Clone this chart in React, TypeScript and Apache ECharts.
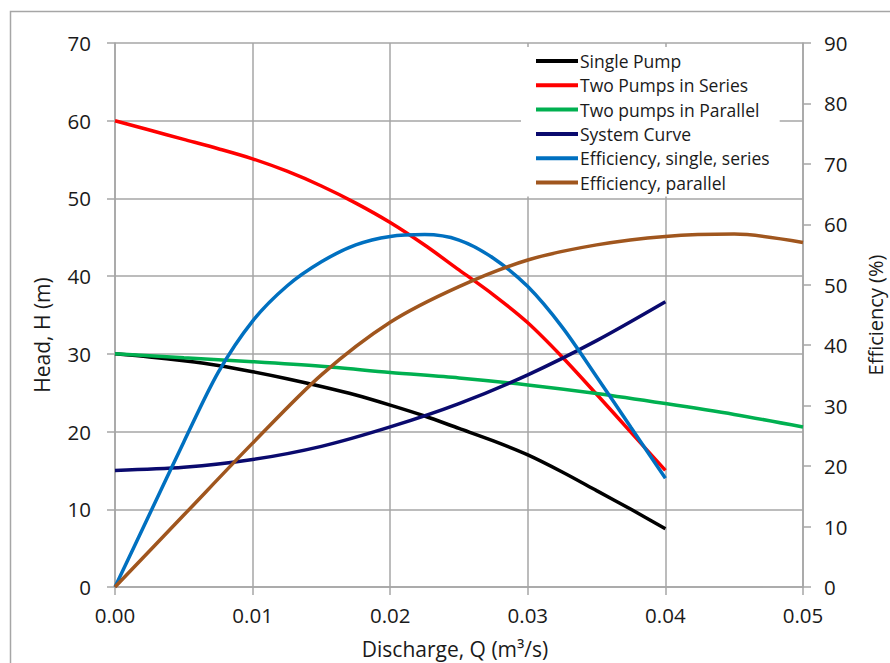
import React, { useEffect, useRef } from "react";
import * as echarts from "echarts";

// Discharge Q (m3/s)
const qFine = [0, 0.0025, 0.005, 0.0075, 0.01, 0.0125, 0.015, 0.0175, 0.02, 0.0225, 0.025, 0.0275, 0.03, 0.0325, 0.035, 0.0375, 0.04];
const qShort = [0, 0.005, 0.01, 0.015, 0.02, 0.025, 0.03, 0.035, 0.04];
const qLong = [0, 0.005, 0.01, 0.015, 0.02, 0.025, 0.03, 0.035, 0.04, 0.045, 0.05];

// Head H (m)
const singlePump = [30, 29.6, 29.1, 28.5, 27.7, 26.8, 25.8, 24.7, 23.4, 22.0, 20.4, 18.8, 17.0, 14.8, 12.4, 10.0, 7.5];
const pumpsSeries = [60, 58.8, 57.6, 56.4, 55.1, 53.5, 51.6, 49.4, 46.9, 44.0, 40.8, 37.6, 34.0, 29.6, 24.8, 19.9, 15.0];
const pumpsParallel = [30, 29.5, 29.0, 28.4, 27.6, 26.9, 26.0, 24.9, 23.6, 22.2, 20.6];
const systemCurve = [15, 15.4, 16.4, 18.1, 20.6, 23.6, 27.3, 31.7, 36.7];

// Efficiency (%)
const effSingle = [0, 12.0, 24.0, 35.5, 44.0, 49.8, 53.8, 56.6, 58.0, 58.3, 57.4, 54.4, 49.7, 43.0, 34.8, 26.4, 18.0];
const effParallel = [0, 11.9, 23.8, 35.1, 43.8, 49.7, 54.1, 56.6, 58.0, 58.4, 57.0];

const xTicks = [0, 0.01, 0.02, 0.03, 0.04, 0.05];
const headTicks = [0, 10, 20, 30, 40, 50, 60, 70];
const effTicks = [0, 10, 20, 30, 40, 50, 60, 70, 80, 90];

const FONT = "'Open Sans', 'Noto Sans', sans-serif";
const GRID = "#a6a6a6";
const TXT = "#1a1a1a";

const pairs = (xs: number[], ys: number[]) => ys.map((y, i) => [xs[i], y]);

export default function App() {
  const ref = useRef<HTMLDivElement>(null);
  useEffect(() => {
    if (!ref.current) return;
    const chart = echarts.init(ref.current, null, { renderer: "svg" });
    const mk = (name: string, xs: number[], ys: number[], color: string, axis: number) => ({
      name,
      type: "line",
      yAxisIndex: axis,
      data: pairs(xs, ys),
      smooth: 0.3,
      showSymbol: false,
      symbol: "none",
      lineStyle: { color, width: 3.5 },
      itemStyle: { color },
    });
    chart.setOption({
      animation: false,
      backgroundColor: "#ffffff",
      textStyle: { fontFamily: FONT },
      grid: { left: 115, right: 87, top: 43, bottom: 76, containLabel: false },
      legend: {
        orient: "vertical",
        left: 521,
        top: 47,
        padding: [5, 10, 5, 15],
        backgroundColor: "#ffffff",
        itemWidth: 42,
        itemHeight: 4,
        itemGap: 6.3,
        icon: "rect",
        textStyle: { fontFamily: FONT, fontSize: 17.5, color: TXT, lineHeight: 18, padding: [0, 0, 0, -3] },
        data: [
          "Single Pump",
          "Two Pumps in Series",
          "Two pumps in Parallel",
          "System Curve",
          "Efficiency, single, series",
          "Efficiency, parallel",
        ],
      },
      xAxis: {
        type: "value",
        min: xTicks[0],
        max: xTicks[xTicks.length - 1],
        interval: 0.01,
        axisLine: { show: true, lineStyle: { color: GRID, width: 1.5 } },
        axisTick: { show: true, length: 8, lineStyle: { color: GRID, width: 1.5 } },
        axisLabel: { margin: 17, fontSize: 20.5, color: TXT, fontFamily: FONT, formatter: (v: number) => v.toFixed(2) },
        splitLine: { show: true, lineStyle: { color: GRID, width: 1.5 } },
      },
      yAxis: [
        {
          type: "value",
          min: headTicks[0],
          max: headTicks[headTicks.length - 1],
          interval: 10,
          position: "left",
          axisLine: { show: true, lineStyle: { color: GRID, width: 1.5 } },
          axisTick: { show: true, length: 8, lineStyle: { color: GRID, width: 1.5 } },
          axisLabel: { margin: 24, fontSize: 20.5, color: TXT, fontFamily: FONT },
          splitLine: { show: true, lineStyle: { color: GRID, width: 1.5 } },
        },
        {
          type: "value",
          min: effTicks[0],
          max: effTicks[effTicks.length - 1],
          interval: 10,
          position: "right",
          axisLine: { show: true, lineStyle: { color: GRID, width: 1.5 } },
          axisTick: { show: true, length: 8, lineStyle: { color: GRID, width: 1.5 } },
          axisLabel: { margin: 21, fontSize: 20.5, color: TXT, fontFamily: FONT },
          splitLine: { show: false },
        },
      ],
      graphic: [
        {
          type: "rect",
          left: 8,
          top: 9,
          shape: { width: 1000, height: 1000 },
          style: { fill: "none", stroke: "#a6a6a6", lineWidth: 1.5 },
          silent: true,
          z: -10,
        },
        {
          type: "text",
          x: 455,
          y: 649,
          style: { text: "Discharge, Q (m³/s)", fontFamily: FONT, fontSize: 21, fill: TXT, align: "center", verticalAlign: "middle" },
        },
        {
          type: "text",
          x: 42,
          y: 335,
          rotation: Math.PI / 2,
          style: { text: "Head, H (m)", fontFamily: FONT, fontSize: 21, fill: TXT, align: "center", verticalAlign: "middle" },
        },
        {
          type: "text",
          x: 875,
          y: 315,
          rotation: Math.PI / 2,
          style: { text: "Efficiency (%)", fontFamily: FONT, fontSize: 20, fill: TXT, align: "center", verticalAlign: "middle" },
        },
      ],
      series: [
        mk("Single Pump", qFine, singlePump, "#000000", 0),
        mk("Two Pumps in Series", qFine, pumpsSeries, "#ff0000", 0),
        mk("Two pumps in Parallel", qLong, pumpsParallel, "#00b050", 0),
        mk("System Curve", qShort, systemCurve, "#0a0a6e", 0),
        mk("Efficiency, single, series", qFine, effSingle, "#0070c0", 1),
        mk("Efficiency, parallel", qLong, effParallel, "#a0561e", 1),
      ],
    });
    return () => chart.dispose();
  }, []);
  return <div ref={ref} style={{ position: "fixed", left: 0, top: 0, width: 890, height: 663 }} />;
}
